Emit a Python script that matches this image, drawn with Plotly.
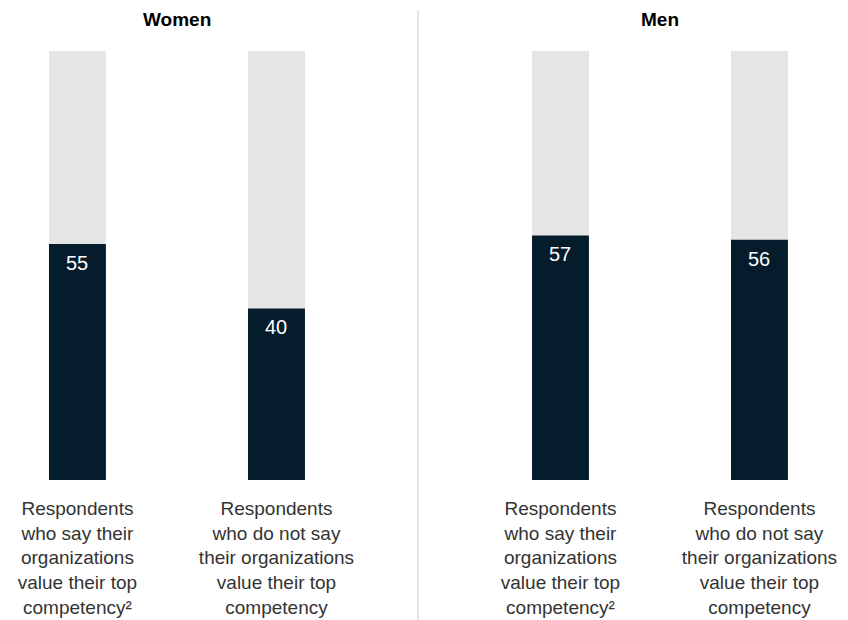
import plotly.graph_objects as go

W, H = 848, 620

groups = ["Women", "Men"]
categories = [
    "Respondents<br>who say their<br>organizations<br>value their top<br>competency²",
    "Respondents<br>who do not say<br>their organizations<br>value their top<br>competency",
]
women_values = [55, 40]
men_values = [57, 56]
totals = [100, 100]

NAVY = "#051C2C"
GREY = "#E5E5E5"
FONT = "Liberation Sans, Arial, sans-serif"

fig = go.Figure()

panels = [("x", "y", women_values), ("x2", "y2", men_values)]
for xa, ya, vals in panels:
    fig.add_trace(go.Bar(x=categories, y=totals, xaxis=xa, yaxis=ya,
                         marker=dict(color=GREY, line=dict(width=0)),
                         width=0.286, hoverinfo="skip", showlegend=False))
    fig.add_trace(go.Bar(x=categories, y=vals, xaxis=xa, yaxis=ya,
                         marker=dict(color=NAVY, line=dict(width=0)),
                         width=0.286, showlegend=False))
    for c, v in zip(categories, vals):
        fig.add_annotation(x=c, y=v, xref=xa, yref=ya, text=str(v),
                           showarrow=False, yanchor="top", yshift=-6,
                           font=dict(family=FONT, size=20, color="white"))

ydom = [(H - 480) / H, (H - 51) / H]
axis_common = dict(showgrid=False, zeroline=False, showline=False, ticks="",
                   tickfont=dict(family=FONT, size=19, color="#333333"),
                   fixedrange=True)

fig.update_layout(
    width=W, height=H,
    margin=dict(l=0, r=0, t=0, b=0),
    paper_bgcolor="white", plot_bgcolor="white",
    barmode="overlay",
    font=dict(family=FONT),
    xaxis=dict(domain=[0, 418 / W], range=[-0.389, 1.711], anchor="y",
               ticklabelstandoff=15, **axis_common),
    xaxis2=dict(domain=[419 / W, 1], range=[-0.711, 1.445], anchor="y2",
                ticklabelstandoff=15, **axis_common),
    yaxis=dict(domain=ydom, range=[0, 100], showticklabels=False,
               anchor="x", **axis_common),
    yaxis2=dict(domain=ydom, range=[0, 100], showticklabels=False,
                anchor="x2", **axis_common),
)

title_x = [177 / W, 660 / W]
for g, tx in zip(groups, title_x):
    fig.add_annotation(x=tx, y=1 - 20 / H, xref="paper", yref="paper",
                       text=f"<b>{g}</b>", showarrow=False,
                       xanchor="center", yanchor="middle",
                       font=dict(family=FONT, size=19, color="#000000"))

fig.add_shape(type="line", xref="paper", yref="paper",
              x0=418 / W, x1=418 / W, y0=0, y1=1 - 10 / H,
              line=dict(color="#CCCCCC", width=1))

fig.write_html("out.html")
